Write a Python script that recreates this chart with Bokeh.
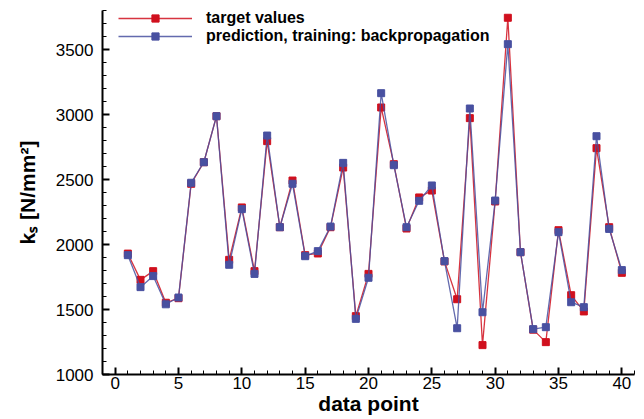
from bokeh.plotting import figure
from bokeh.models import (ColumnDataSource, SingleIntervalTicker, Legend, LegendItem,
                          Range1d)
from bokeh.embed import file_html
from bokeh.resources import INLINE

# ---------------- data ----------------
data_point = list(range(1, 41))
target_values = [1930, 1728, 1795, 1552, 1587, 2467, 2633, 2987, 1882, 2285,
                 1795, 2795, 2133, 2492, 1918, 1931, 2133, 2592, 1449, 1774,
                 3054, 2618, 2123, 2362, 2415, 1870, 1579, 2972, 1226, 2331,
                 3744, 1941, 1345, 1249, 2110, 1610, 1485, 2741, 2133, 1782]
prediction = [1918, 1672, 1757, 1540, 1592, 2475, 2633, 2987, 1844, 2272,
              1774, 2838, 2133, 2467, 1910, 1949, 2138, 2628, 1428, 1744,
              3164, 2610, 2133, 2336, 2454, 1872, 1356, 3046, 1479, 2338,
              3541, 1941, 1349, 1364, 2095, 1556, 1518, 2833, 2120, 1803]
series_labels = ["target values", "prediction, training: backpropagation"]
x_label = "data point"
y_label = "kₛ [N/mm²]"

# ---------------- layout ----------------
W, H = 644, 419
FL, FR, FT, FB = 102, 634, 10, 374  # frame edges in screen px
FONT = "Liberation Sans"

RED = "#d0101e"
BLUE = "#4850a0"

p = figure(width=W, height=H, output_backend="svg", toolbar_location=None,
           x_range=Range1d(-1, 41), y_range=Range1d(1000, 3800),
           min_border_left=FL, min_border_right=W - FR,
           min_border_top=FT, min_border_bottom=H - FB)
p.outline_line_color = None
p.grid.visible = False
p.background_fill_color = "white"
p.border_fill_color = "white"

src = ColumnDataSource(dict(x=data_point, t=target_values, pr=prediction))

l1 = p.line("x", "t", source=src, line_color=RED, line_width=1.3, line_alpha=0.85)
s1 = p.scatter("x", "t", source=src, marker="square", size=7,
               fill_color=RED, line_color=RED)
l2 = p.line("x", "pr", source=src, line_color=BLUE, line_width=1.3, line_alpha=0.85)
s2 = p.scatter("x", "pr", source=src, marker="square", size=7,
               fill_color=BLUE, line_color=BLUE)

# axes
for ax in (p.xaxis[0], p.yaxis[0]):
    ax.axis_line_width = 2
    ax.axis_line_color = "black"
    ax.major_tick_in = 7
    ax.major_tick_out = 0
    ax.minor_tick_in = 4
    ax.minor_tick_out = 0
    ax.major_tick_line_width = 2
    ax.minor_tick_line_width = 1
    ax.major_label_text_font = FONT
    ax.major_label_text_font_size = "17px"
    ax.major_label_text_color = "black"
    ax.axis_label_text_font = FONT
    ax.axis_label_text_font_style = "bold"
    ax.axis_label_text_font_size = "21px"
    ax.axis_label_text_color = "black"

p.xaxis[0].ticker = SingleIntervalTicker(interval=5, num_minor_ticks=5)
p.yaxis[0].ticker = SingleIntervalTicker(interval=500, num_minor_ticks=5)
p.xaxis[0].major_label_standoff = 2
p.yaxis[0].major_label_standoff = 9
p.xaxis[0].axis_label = x_label
p.xaxis[0].axis_label_standoff = 0
p.yaxis[0].axis_label = y_label
p.yaxis[0].axis_label_standoff = 14

# ---------------- legend ----------------
legend = Legend(items=[LegendItem(label=series_labels[0], renderers=[l1, s1]),
                       LegendItem(label=series_labels[1], renderers=[l2, s2])],
                location=(16, 329), glyph_width=74, glyph_height=18,
                label_height=18, spacing=-2, padding=5, margin=0,
                label_standoff=14, border_line_color=None,
                background_fill_alpha=0,
                label_text_font=FONT, label_text_font_style="bold",
                label_text_font_size="16px", label_text_color="black")
p.add_layout(legend)

open("out.html", "w").write(file_html(p, INLINE))
